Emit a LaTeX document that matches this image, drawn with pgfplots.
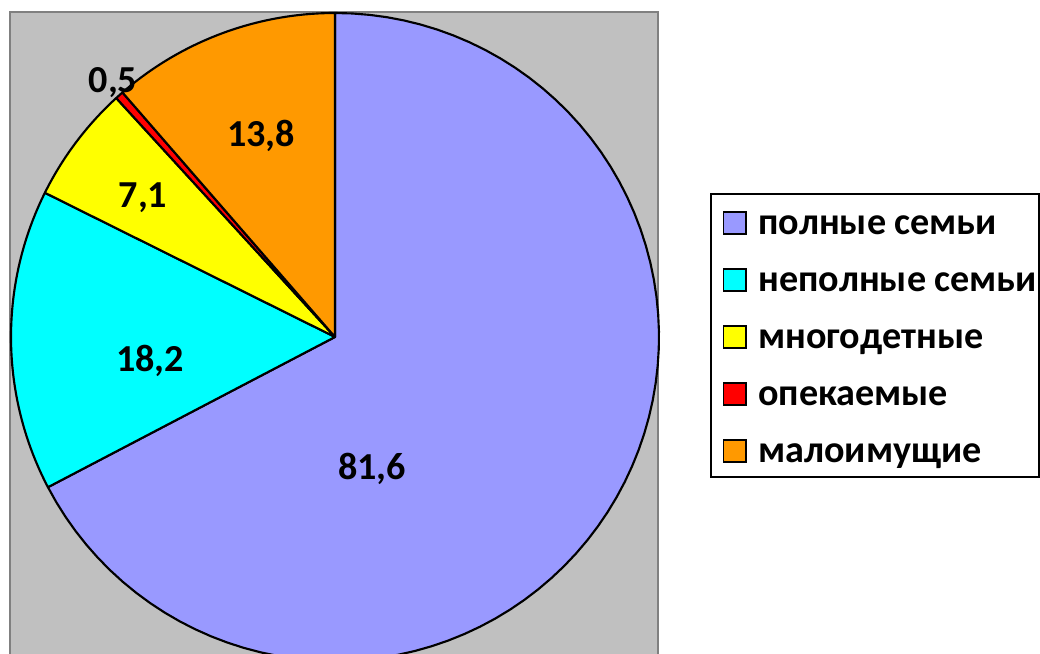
\documentclass[border=0pt]{standalone}
\usepackage{pgfplots}
\pgfplotsset{compat=1.18}
\usepackage{fontspec}
\setmainfont{Carlito}
\definecolor{cPol}{HTML}{9999FF}
\definecolor{cNep}{HTML}{00FFFF}
\definecolor{cMno}{HTML}{FFFF00}
\definecolor{cOpe}{HTML}{FF0000}
\definecolor{cMal}{HTML}{FF9900}
\definecolor{bgGray}{HTML}{C0C0C0}
\definecolor{bdGray}{HTML}{808080}
\begin{document}
\begin{tikzpicture}
\begin{axis}[width=780pt,height=490.5pt,scale only axis,
  xmin=0,xmax=1040,ymin=0,ymax=654,hide axis,clip=true]
\path (axis cs:0,0) rectangle (axis cs:1040,654);
% plot area background
\fill[bgGray] (axis cs:10,0) rectangle (axis cs:658,642);
\draw[bdGray,line width=1.5pt] (axis cs:10,0) -- (axis cs:10,642) -- (axis cs:658,642) -- (axis cs:658,0);
% pie slices: values 81.6, 18.2, 7.1, 0.5, 13.8 (sum 121.2), clockwise from 12 o'clock
\pgfplotsextra{
  \gdef\curang{90}
  \foreach \v/\col in {81.6/cPol,18.2/cNep,7.1/cMno,0.5/cOpe,13.8/cMal}{
    \pgfmathsetmacro\endang{\curang-\v/121.2*360}
    \filldraw[overlay,fill=\col,draw=black,line width=1.6pt,line join=round]
      (axis cs:335,317) -- plot[domain=\curang:\endang,samples=80,variable=\t]
      (axis cs:{335+324*cos(\t)},{317+324*sin(\t)}) -- cycle;
    \global\let\curang\endang
  }
}
% data labels
\begin{scope}[every node/.style={inner sep=0pt,anchor=base,font=\bfseries\fontsize{28.6}{28.6}\selectfont}]
\node at (axis cs:372,174) {81,6};
\node at (axis cs:150,282) {18,2};
\node at (axis cs:143,446) {7,1};
\node at (axis cs:113,561) {0,5};
\node at (axis cs:261,507) {13,8};
\end{scope}
% legend
\draw[black,line width=1.5pt] (axis cs:711,460) rectangle (axis cs:1038.5,177);
\begin{scope}[every node/.style={inner sep=0pt,anchor=base west,font=\bfseries\fontsize{28.6}{28.6}\selectfont}]
\filldraw[fill=cPol,draw=black,line width=1.1pt] (axis cs:723.5,420) rectangle (axis cs:746,442);
\node at (axis cs:758,419) {полные семьи};
\filldraw[fill=cNep,draw=black,line width=1.1pt] (axis cs:723.5,363) rectangle (axis cs:746,385);
\node at (axis cs:758,362) {неполные семьи};
\filldraw[fill=cMno,draw=black,line width=1.1pt] (axis cs:723.5,306) rectangle (axis cs:746,328);
\node at (axis cs:758,305) {многодетные};
\filldraw[fill=cOpe,draw=black,line width=1.1pt] (axis cs:723.5,249) rectangle (axis cs:746,271);
\node at (axis cs:758,248) {опекаемые};
\filldraw[fill=cMal,draw=black,line width=1.1pt] (axis cs:723.5,192) rectangle (axis cs:746,214);
\node at (axis cs:758,191) {малоимущие};
\end{scope}
\end{axis}
\end{tikzpicture}
\end{document}
